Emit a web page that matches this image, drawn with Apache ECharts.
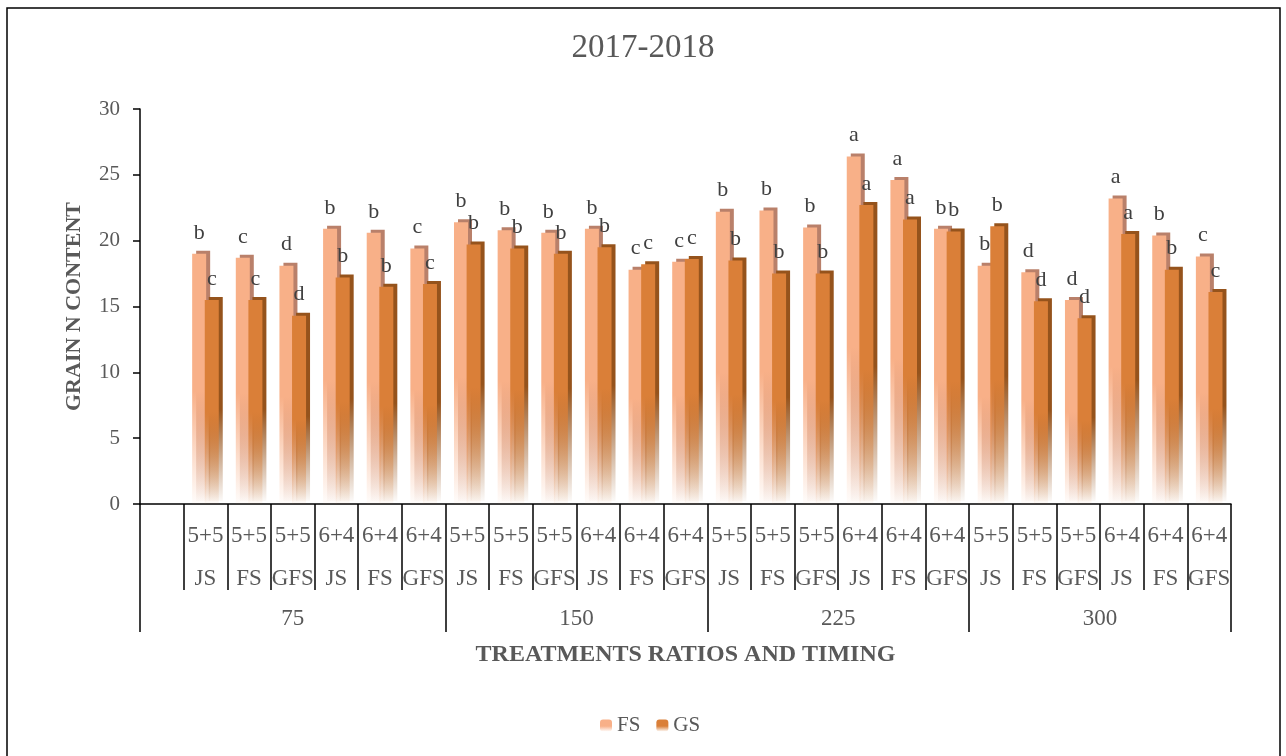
<!DOCTYPE html>
<html><head><meta charset="utf-8">
<script src="https://cdn.jsdelivr.net/npm/echarts@6/dist/echarts.min.js"></script>
<style>html,body{margin:0;padding:0;background:#fff}#c{width:1286px;height:756px}</style>
</head><body><div id="c"></div>
<script>
// ---- data ----
const doses = ['75', '150', '225', '300'];
const ratios = ['5+5', '5+5', '5+5', '6+4', '6+4', '6+4'];
const timings = ['JS', 'FS', 'GFS', 'JS', 'FS', 'GFS'];
const fsValues = [19.0, 18.7, 18.1, 20.9, 20.6, 19.4,
                  21.4, 20.8, 20.6, 20.9, 17.8, 18.4,
                  22.2, 22.3, 21.0, 26.4, 24.6, 20.9,
                  18.1, 17.6, 15.5, 23.2, 20.4, 18.8];
const gsValues = [15.5, 15.5, 14.3, 17.2, 16.5, 16.7,
                  19.7, 19.4, 19.0, 19.5, 18.2, 18.6,
                  18.5, 17.5, 17.5, 22.7, 21.6, 20.7,
                  21.1, 15.4, 14.1, 20.5, 17.8, 16.1];
const fsLetters = ['b','c','d','b','b','c', 'b','b','b','b','c','c', 'b','b','b','a','a','b', 'b','d','d','a','b','c'];
const gsLetters = ['c','c','d','b','b','c', 'b','b','b','b','c','c', 'b','b','b','a','a','b', 'b','d','d','a','b','c'];
const yTicks = [0, 5, 10, 15, 20, 25, 30];

// ---- build ----
const categories = [''];
doses.forEach(() => ratios.forEach((r, i) => categories.push(r + '\n' + timings[i])));
const bounds = [0];
doses.forEach((d, g) => bounds.push(1 + ratios.length * (g + 1)));
const mids = doses.map((d, g) => (bounds[g] + bounds[g + 1]) / 2);
const midLabel = {}; mids.forEach((m, g) => midLabel[m] = doses[g]);
const innerBounds = [];
for (let i = 1; i < categories.length; i++) if (!bounds.includes(i)) innerBounds.push(i);

function grad(c, rgb) {
  return new echarts.graphic.LinearGradient(0, 0, 0, 1, [
    {offset: 0, color: c},
    {offset: 0.55, color: c},
    {offset: 0.8, color: 'rgba(' + rgb + ',0.45)'},
    {offset: 1, color: 'rgba(' + rgb + ',0.03)'}
  ]);
}
const FONT = 'Liberation Serif';
const N = categories.length;
const chart = echarts.init(document.getElementById('c'));
chart.setOption({
  animation: false,
  backgroundColor: '#fff',
  textStyle: {fontFamily: FONT},
  graphic: [{type: 'rect', shape: {x: 7, y: 8, width: 1273, height: 800},
    style: {fill: 'none', stroke: '#000', lineWidth: 1.5}, silent: true}],
  title: {text: '2017-2018', left: 'center', top: 27,
    textStyle: {fontFamily: FONT, fontSize: 33, fontWeight: 'normal', color: '#595959'}},
  legend: {left: 595, top: 710, itemWidth: 12, itemHeight: 12, itemGap: 16,
    textStyle: {fontFamily: FONT, fontSize: 21, color: '#595959'},
    data: ['FS', 'GS']},
  grid: {left: 140, right: 55, top: 109, bottom: 252, containLabel: false},
  xAxis: [{
    type: 'category', data: categories, position: 'bottom',
    axisLine: {lineStyle: {color: '#000', width: 1.5}},
    axisTick: {show: false},
    axisLabel: {interval: 0, fontFamily: FONT, fontSize: 23, lineHeight: 43, margin: 10, color: '#595959'}
  }, {
    type: 'value', min: 0, max: N, position: 'bottom',
    axisLine: {show: false}, splitLine: {show: false},
    axisTick: {show: true, customValues: bounds, length: 128, lineStyle: {color: '#000', width: 1.5}},
    axisLabel: {customValues: mids, formatter: v => midLabel[v] || '', fontFamily: FONT, fontSize: 23, margin: 103, color: '#595959'},
    name: 'TREATMENTS RATIOS AND TIMING', nameLocation: 'middle', nameGap: 139,
    nameTextStyle: {fontFamily: FONT, fontSize: 24, fontWeight: 'bold', color: '#595959'}
  }, {
    type: 'value', min: 0, max: N, position: 'bottom',
    axisLine: {show: false}, splitLine: {show: false},
    axisTick: {show: true, customValues: innerBounds, length: 86, lineStyle: {color: '#000', width: 1.5}},
    axisLabel: {show: false}
  }],
  yAxis: {
    type: 'value', min: 0, max: 30, interval: 5,
    axisLine: {show: true, lineStyle: {color: '#000', width: 1.5}},
    axisTick: {show: true, length: 7, lineStyle: {color: '#000', width: 1.5}},
    splitLine: {show: false},
    axisLabel: {fontFamily: FONT, fontSize: 21, color: '#595959', margin: 20,
      formatter: v => yTicks.includes(v) ? String(v) : ''},
    name: 'GRAIN N CONTENT', nameLocation: 'middle', nameGap: 55, nameRotate: 90,
    nameTextStyle: {fontFamily: FONT, fontSize: 22, fontWeight: 'bold', color: '#595959'}
  },
  series: [{
    name: 'FS', type: 'bar', xAxisIndex: 0, barWidth: 14, barGap: '-10%',
    data: [null].concat(fsValues),
    itemStyle: {color: grad('#F8B088', '248,176,136'), shadowColor: '#B9806A', shadowOffsetX: 4, shadowOffsetY: -3, shadowBlur: 0},
    label: {show: true, position: 'top', distance: 10, fontFamily: FONT, fontSize: 22, color: '#404040',
      formatter: p => fsLetters[p.dataIndex - 1] || ''}
  }, {
    name: 'GS', type: 'bar', xAxisIndex: 0, barWidth: 14,
    data: [null].concat(gsValues),
    itemStyle: {color: grad('#DA7F38', '218,127,56'), shadowColor: '#95531C', shadowOffsetX: 4, shadowOffsetY: -3, shadowBlur: 0},
    label: {show: true, position: 'top', distance: 10, fontFamily: FONT, fontSize: 22, color: '#404040',
      formatter: p => gsLetters[p.dataIndex - 1] || ''}
  }]
});
</script></body></html>
